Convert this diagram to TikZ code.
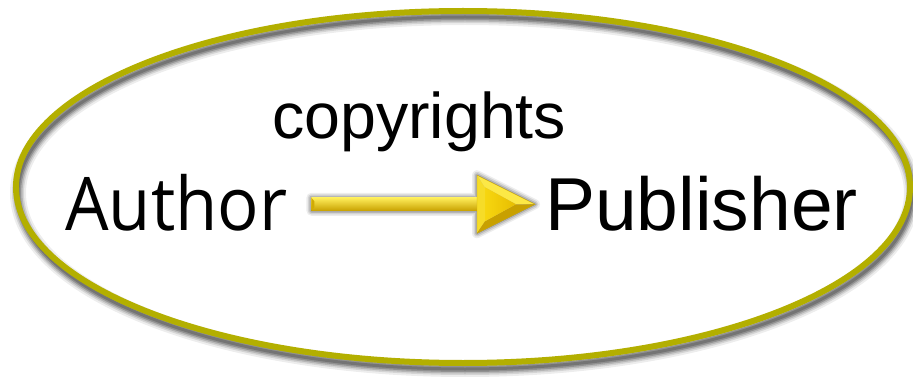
\documentclass[tikz,border=0pt]{standalone}
\usepackage{fontspec}
\setmainfont{Liberation Sans}
\newfontfamily\humanist{Open Sans}
\usetikzlibrary{calc}
\definecolor{rim}{RGB}{179,175,0}
\definecolor{goldA}{RGB}{247,214,16}
\definecolor{goldLight}{RGB}{255,238,90}
\definecolor{goldTop}{RGB}{252,232,70}
\definecolor{goldLeft}{RGB}{246,220,40}
\definecolor{goldDark}{RGB}{200,160,0}
\definecolor{goldInner}{RGB}{236,194,0}
\tikzset{
  word/.style={inner sep=0pt, anchor=base west, text=black},
  softshadow/.style={draw=black, line join=round},
}
\begin{document}
\begin{tikzpicture}[x=1pt, y=-1pt]
\useasboundingbox (0,0) rectangle (913,377);
\fill[white] (0,0) rectangle (913,377);

% soft shadow of the oval frame
\foreach \w/\o in {16/0.07,12/0.10,9/0.14,6/0.20,3/0.20}
  \draw[softshadow, line width=\w pt, opacity=\o] (465,193) ellipse [x radius=447, y radius=176];
% the oval frame
\draw[rim, line width=6pt] (463,187) ellipse [x radius=447, y radius=176];

% labels
\node[word] (author) at (65,230) {\humanist\fontsize{74}{80}\selectfont\scalebox{0.93}[1]{Author}};
\node[word] (publisher) at (545,230) {\fontsize{75}{80}\selectfont Publisher};
\node[word] (label) at (272,139) {\fontsize{64.5}{68}\selectfont copyrights};

% arrow geometry, from Author towards Publisher
\coordinate (tail) at ([xshift=24pt,yshift=-2pt]author.east);
\coordinate (tip) at ([xshift=-10pt]publisher.west |- tail);
\path (tip) ++(-58,0) coordinate (hbase);
\path (hbase) ++(0,-29) coordinate (hA);
\path (hbase) ++(0,29) coordinate (hB);
\path (hbase) ++(8,-17) coordinate (ia);
\path (hbase) ++(8,17) coordinate (ib);
\path (tip) ++(-19,0) coordinate (it);

% arrow shadow
\begin{scope}[shift={(-2,6)}]
  \foreach \w/\o in {10/0.07,7/0.10,4/0.14,1/0.20}
    \filldraw[softshadow, line width=\w pt, opacity=\o, fill opacity=0.08]
      ($(tail)+(0,-6.5)$) -- ($(hbase)+(0,-6.5)$) -- (hA) -- (tip) -- (hB)
      -- ($(hbase)+(0,6.5)$) -- ($(tail)+(0,6.5)$) -- cycle;
\end{scope}

% arrow shaft
\shade[top color=goldLight, middle color=goldA, bottom color=goldDark]
  ($(tail)+(0,-6.5)$) rectangle ($(hbase)+(0,6.5)$);
\fill[goldDark!80!goldA] ($(tail)+(0,-6.5)$) -- ($(tail)+(3,-3)$) -- ($(tail)+(3,3)$) -- ($(tail)+(0,6.5)$) -- cycle;

% arrow head, bevelled
\fill[goldLeft] (hA) -- (hB) -- (ib) -- (ia) -- cycle;
\fill[goldTop] (hA) -- (tip) -- (it) -- (ia) -- cycle;
\fill[goldDark] (hB) -- (tip) -- (it) -- (ib) -- cycle;
\shade[left color=goldA, right color=goldInner!85!goldDark] (ia) -- (ib) -- (it) -- cycle;
\draw[goldDark!70!goldA, line width=0.4pt] (hA) -- (tip) -- (hB) -- cycle;
\end{tikzpicture}
\end{document}
